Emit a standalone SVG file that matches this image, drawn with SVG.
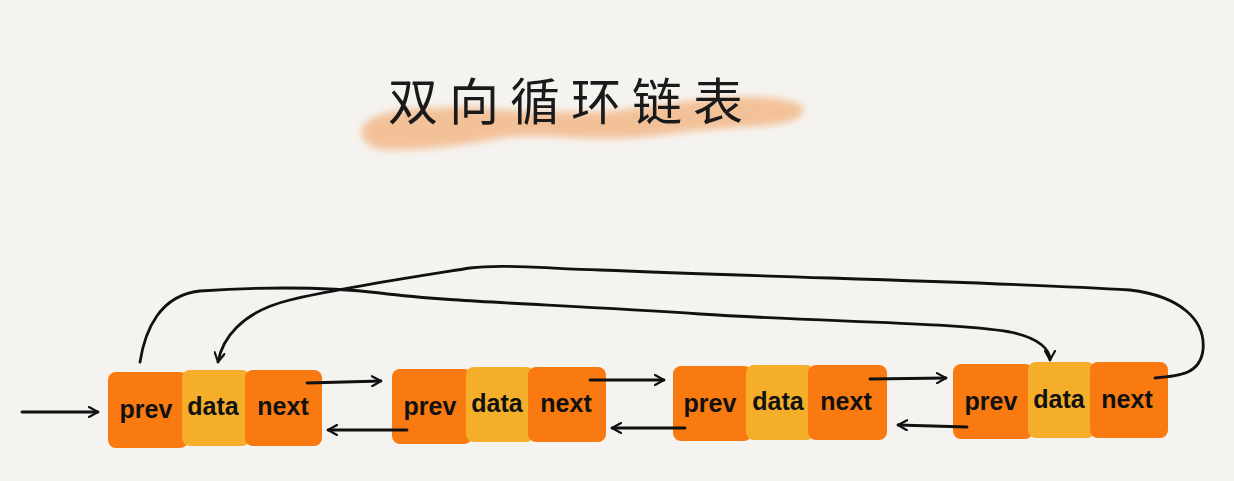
<svg xmlns="http://www.w3.org/2000/svg" width="1234" height="481" viewBox="0 0 1234 481">
<defs>
<style>
.bg{fill:#f5f3ef}
.orange{fill:#f97a10}
.yellow{fill:#f4ae2a}
.lbl{font-family:"Liberation Sans",Arial,sans-serif;font-size:25px;font-weight:bold;fill:#111;text-anchor:middle}
.title{font-family:"Noto Sans CJK SC",sans-serif;font-size:50px;fill:#1a1a1a;letter-spacing:11px}
.ln{fill:none;stroke:#111;stroke-width:2.8;stroke-linecap:round;stroke-linejoin:round}
</style>
<marker id="ah" viewBox="0 0 12 12" refX="10" refY="6" markerWidth="12" markerHeight="12" markerUnits="userSpaceOnUse" orient="auto">
<path d="M1,1 L10,6 L1,11" fill="none" stroke="#111" stroke-width="2.2" stroke-linecap="round" stroke-linejoin="round"/>
</marker>
<filter id="soft" x="-10%" y="-50%" width="120%" height="200%"><feGaussianBlur stdDeviation="3.5"/></filter>
</defs>
<rect class="bg" width="1234" height="481"/>

<g id="title">
<path d="M364,124 C380,110 410,108 440,108 C470,104 500,110 530,112 C560,110 590,114 620,110 C650,106 690,100 720,98 C750,96 785,96 802,106 C808,118 790,124 760,126 C730,128 700,130 670,134 C640,138 610,140 580,138 C550,136 520,134 490,140 C460,146 420,150 390,150 C368,150 356,138 364,124 Z" fill="#f3b98a" opacity="0.85" filter="url(#soft)"/>
<text class="title" x="388" y="120">双向循环链表</text>
</g>

<g id="node1">
<rect class="orange" x="108" y="372" width="80" height="76" rx="8"/>
<rect class="yellow" x="182" y="370" width="68" height="76" rx="8"/>
<rect class="orange" x="245" y="370" width="77" height="76" rx="8"/>
<text class="lbl" x="146" y="418">prev</text>
<text class="lbl" x="213" y="415">data</text>
<text class="lbl" x="283" y="415">next</text>
</g>
<g id="node2">
<rect class="orange" x="392" y="369" width="80" height="75" rx="8"/>
<rect class="yellow" x="466" y="367" width="68" height="75" rx="8"/>
<rect class="orange" x="528" y="367" width="78" height="75" rx="8"/>
<text class="lbl" x="430" y="415">prev</text>
<text class="lbl" x="497" y="412">data</text>
<text class="lbl" x="566" y="412">next</text>
</g>
<g id="node3">
<rect class="orange" x="673" y="366" width="79" height="75" rx="8"/>
<rect class="yellow" x="746" y="365" width="68" height="75" rx="8"/>
<rect class="orange" x="808" y="365" width="79" height="75" rx="8"/>
<text class="lbl" x="710" y="412">prev</text>
<text class="lbl" x="778" y="410">data</text>
<text class="lbl" x="846" y="410">next</text>
</g>
<g id="node4">
<rect class="orange" x="953" y="364" width="80" height="75" rx="8"/>
<rect class="yellow" x="1028" y="362" width="67" height="76" rx="8"/>
<rect class="orange" x="1090" y="362" width="78" height="76" rx="8"/>
<text class="lbl" x="991" y="410">prev</text>
<text class="lbl" x="1059" y="408">data</text>
<text class="lbl" x="1127" y="408">next</text>
</g>

<g id="connectors">
<path class="ln" d="M22,412 L98,412" marker-end="url(#ah)"/>
<path class="ln" d="M307,383 L381,381" marker-end="url(#ah)"/>
<path class="ln" d="M407,430 L328,430" marker-end="url(#ah)"/>
<path class="ln" d="M590,380 L664,380" marker-end="url(#ah)"/>
<path class="ln" d="M685,428 L612,428" marker-end="url(#ah)"/>
<path class="ln" d="M870,379 L946,378" marker-end="url(#ah)"/>
<path class="ln" d="M967,427 L898,425" marker-end="url(#ah)"/>
<path class="ln" d="M140,362 C145,330 160,295 200,291 C260,287 320,286 380,293 C450,302 550,304 700,314 C820,322 950,322 1010,332 C1040,338 1050,350 1050,360" marker-end="url(#ah)"/>
<path class="ln" d="M1155,378 C1180,376 1200,374 1203,350 C1206,320 1180,296 1130,290 C1000,282 800,278 600,270 C540,268 500,264 470,268 C420,276 340,288 290,300 C240,312 222,340 218,362" marker-end="url(#ah)"/>
</g>
</svg>
